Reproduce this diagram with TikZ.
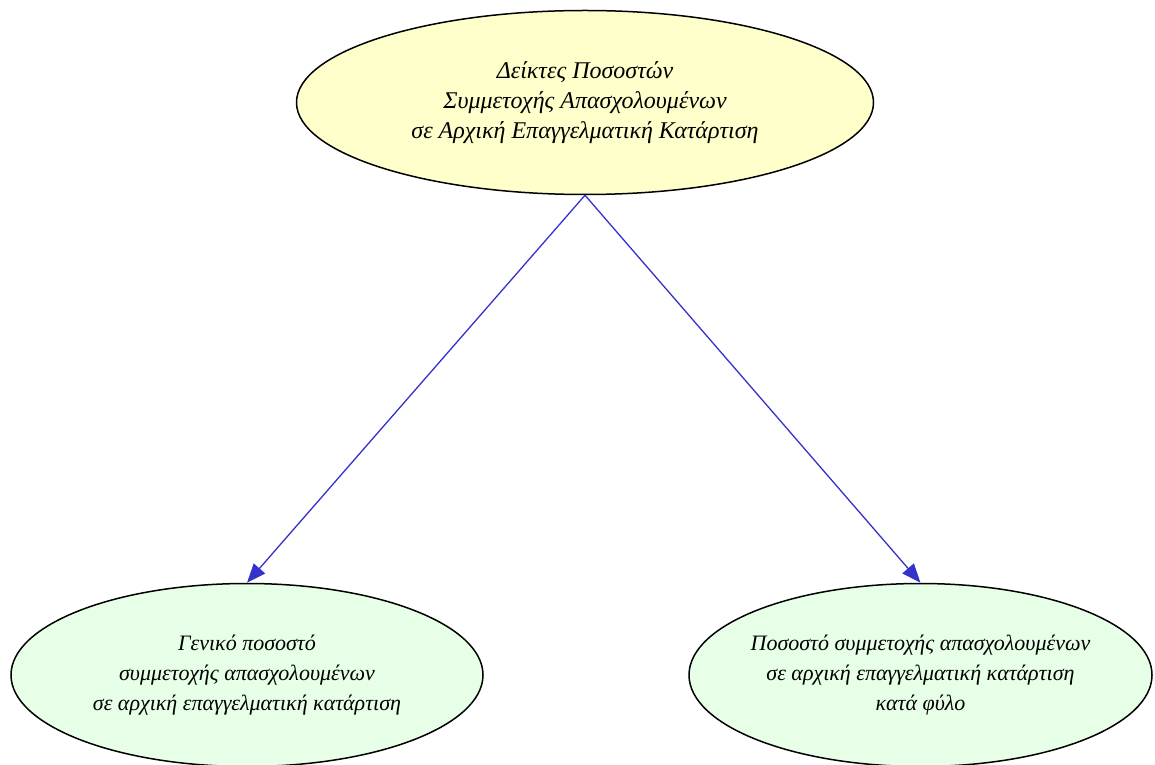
\documentclass[tikz,border=0pt]{standalone}
\usepackage{fontspec}
\setmainfont{Liberation Serif}
\usepackage{tikz}
\usetikzlibrary{shapes.geometric,arrows.meta}
\definecolor{rootfill}{RGB}{255,255,204}
\definecolor{leaffill}{RGB}{230,255,230}
\definecolor{linkblue}{RGB}{51,51,204}
\tikzset{
  oval/.style={draw,line width=1.5pt,ellipse,inner sep=0pt,align=center,
    font=\itshape\fontsize{22}{30}\selectfont},
  link/.style={-{Triangle[length=19pt,width=15pt]},linkblue,line width=1.3pt}
}

\begin{document}
\begin{tikzpicture}[x=1pt,y=1pt]
\useasboundingbox(0,0)rectangle(1155,764);
\node[oval,fill=rootfill,minimum width=577pt,minimum height=184pt,
  font=\itshape\fontsize{24}{30}\selectfont](root)at(585,661.5){Δείκτες Ποσοστών\\Συμμετοχής Απασχολουμένων\\σε Αρχική Επαγγελματική Κατάρτιση};
\node[oval,fill=leaffill,minimum width=472pt,minimum height=183pt](total)at(247,89){Γενικό ποσοστό\\συμμετοχής απασχολουμένων\\σε αρχική επαγγελματική κατάρτιση};
\node[oval,fill=leaffill,inner xsep=-10pt,minimum width=463pt,minimum height=183pt](gender)at(920.5,89){Ποσοστό συμμετοχής απασχολουμένων\\σε αρχική επαγγελματική κατάρτιση\\κατά φύλο};
\draw[link](root.south)--(total.north);
\draw[link](root.south)--(gender.north);
\end{tikzpicture}
\end{document}
